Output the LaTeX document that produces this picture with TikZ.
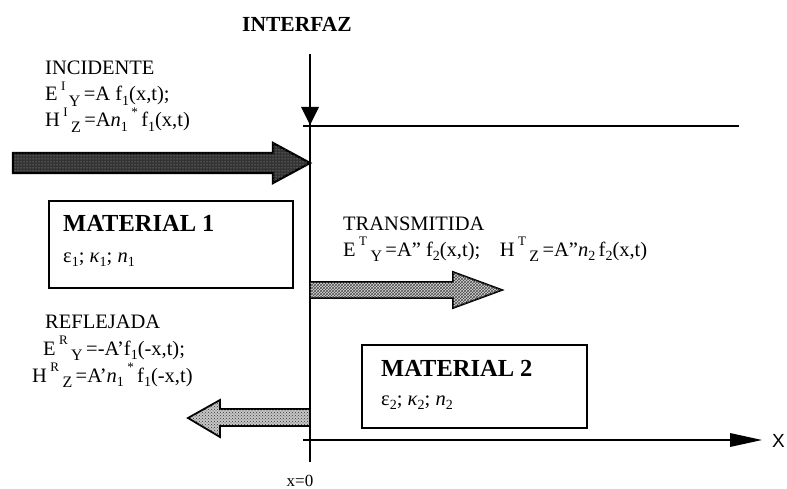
\documentclass[tikz,border=0pt]{standalone}
\usepackage{fontspec}
\setmainfont{Liberation Serif}
\newfontfamily\axisfont{Liberation Sans}
\usetikzlibrary{patterns}
\newcommand{\supx}[1]{\raisebox{0.5em}{\fontsize{13}{13}\selectfont #1}}
\newcommand{\subx}[1]{\raisebox{-0.28em}{\fontsize{16}{16}\selectfont #1}}
\newcommand{\lsub}[1]{\raisebox{-0.2em}{\fontsize{14}{14}\selectfont #1}}
\tikzset{
  lbl/.style={anchor=base west, inner sep=0pt, font=\fontsize{20.5}{24}\selectfont},
  boldlbl/.style={anchor=base west, inner sep=0pt, font=\fontsize{24.5}{28}\bfseries\selectfont},
  matbox/.style={draw=black, line width=1.6pt},
  axisline/.style={line width=1.6pt},
  incarrow/.style={draw=black, line width=2.2pt, fill=black!80, postaction={pattern=dots, pattern color=gray!60}},
  trarrow/.style={draw=black, line width=1.8pt, fill=gray!30, postaction={pattern=crosshatch, pattern color=black!70}},
  rfarrow/.style={draw=black, line width=1.8pt, fill=gray!45, postaction={pattern=crosshatch dots, pattern color=black!80}},
}
\begin{document}
\begin{tikzpicture}[x=1pt,y=-1pt]
\useasboundingbox (0,0) rectangle (787,489);
% interface
\node[anchor=base, inner sep=0pt, font=\fontsize{21.5}{24}\bfseries\selectfont] (interfaz) at (297,32) {INTERFAZ};
\coordinate (itop) at (310,54);
\coordinate (ibot) at (310,462);
\coordinate (itip) at (310,125);
\draw[axisline] (itop) -- (ibot);
\fill (itip) -- ++(-9,-18) -- ++(18,0) -- cycle;
% horizontal line
\coordinate (hl) at (303,126);
\coordinate (hr) at (739,126);
\draw[axisline] (hl) -- (hr);
% x axis
\coordinate (xl) at (303,440);
\coordinate (xr) at (732,440);
\coordinate (xtip) at (762,440);
\draw[axisline] (xl) -- (xr);
\fill (xtip) -- ++(-32,-7) -- ++(0,14) -- cycle;
\node[anchor=west, inner sep=0pt, font=\axisfont\fontsize{19}{22}\selectfont] (xlab) at (772,441) {X};
\node[anchor=base, inner sep=0pt, font=\fontsize{17}{20}\selectfont] (x0) at (300,486) {x=0};
% incident
\node[lbl] (inc) at (45,75) {INCIDENTE};
\node[lbl] (inc1) at (45,101) {E\,\supx{I}\,\subx{Y}\,=A f\lsub{1}(x,t);};
\node[lbl] (inc2) at (45,127) {H\,\supx{I}\,\subx{Z}\,=A\textit{n}\lsub{1}\,\supx{*}\,f\lsub{1}(x,t)};
\draw[incarrow] (13,153) -- (273,153) -- (273,143) -- (310,163) -- (273,183) -- (273,173) -- (13,173) -- cycle;
% material 1
\draw[matbox] (49,201) rectangle (293,288);
\node[boldlbl] (m1) at (63,232) {MATERIAL 1};
\node[lbl] (m1p) at (63,262) {ε\lsub{1}; \textit{κ}\lsub{1}; \textit{n}\lsub{1}};
% transmitted
\node[lbl] (tr) at (343,230) {TRANSMITIDA};
\node[lbl] (tr1) at (343,256) {E\,\supx{T}\,\subx{Y}\,=A” f\lsub{2}(x,t);\hspace{0.7em} H\,\supx{T}\,\subx{Z}\,=A”\textit{n}\lsub{2}\,f\lsub{2}(x,t)};
\draw[trarrow] (310,282) -- (453,282) -- (453,272) -- (502,290) -- (453,308) -- (453,298) -- (310,298) -- cycle;
% reflected
\node[lbl] (rf) at (45,328) {REFLEJADA};
\node[lbl] (rf1) at (43,355) {E\,\supx{R}\,\subx{Y}\,=-A’f\lsub{1}(-x,t);};
\node[lbl] (rf2) at (32,382) {H\,\supx{R}\,\subx{Z}\,=A’\textit{n}\lsub{1}\,\supx{*}\,f\lsub{1}(-x,t)};
\draw[rfarrow] (310,409) -- (220,409) -- (220,400) -- (188,418) -- (220,437) -- (220,426) -- (310,426) -- cycle;
% material 2
\draw[matbox] (362,345) rectangle (587,428);
\node[boldlbl] (m2) at (381,376) {MATERIAL 2};
\node[lbl] (m2p) at (381,405) {ε\lsub{2}; \textit{κ}\lsub{2}; \textit{n}\lsub{2}};
\end{tikzpicture}
\end{document}
